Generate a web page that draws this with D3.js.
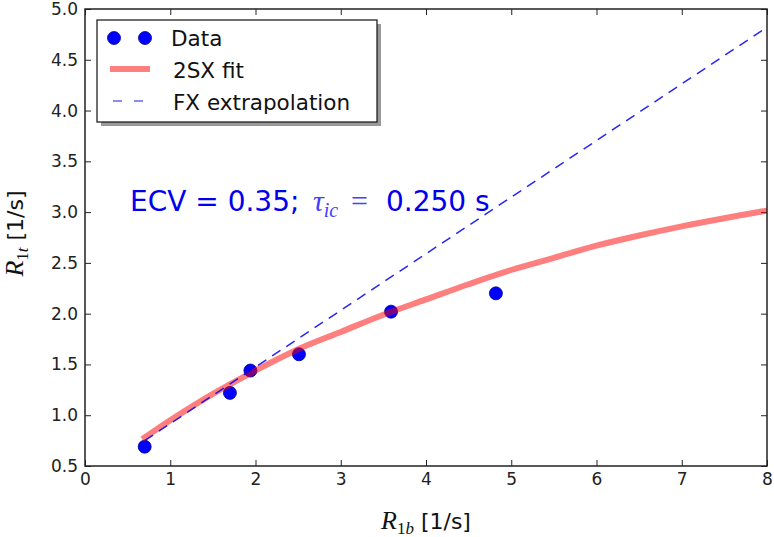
<html>
<head>
<title>R1t vs R1b</title>
<script src="https://cdn.jsdelivr.net/npm/d3@7"></script>
<style>
  body { margin: 0; background: #fff; }
  text { font-family: "DejaVu Sans", sans-serif; }
</style>
</head>
<body>
<svg width="774" height="537"></svg>
<script>

// measured points
var dataR1b = [0.70, 1.70, 1.94, 2.51, 3.59, 4.82];
var dataR1t = [0.69, 1.22, 1.44, 1.60, 2.02, 2.20];

// 2SX fit curve
var fitR1b = [0.7, 1.0, 1.5, 2.0, 2.5, 3.0, 3.5, 4.0, 4.5, 5.0, 5.5, 6.0, 6.5, 7.0, 7.5, 8.0];
var fitR1t = [0.78, 0.95, 1.21, 1.44, 1.65, 1.82, 1.99, 2.14, 2.29, 2.43, 2.55, 2.67, 2.77, 2.86, 2.94, 3.015];

// FX extrapolation (straight line)
var fxR1b = [0.7, 8.0];
var fxR1t = [0.75, 4.82];

var xTicks = [0, 1, 2, 3, 4, 5, 6, 7, 8];
var yTicks = [0.5, 1.0, 1.5, 2.0, 2.5, 3.0, 3.5, 4.0, 4.5, 5.0];
var legendLabels = ["Data", "2SX fit", "FX extrapolation"];

var svg = d3.select("svg"),
    margin = {top: 9, right: 7, bottom: 71, left: 85},
    width = +svg.attr("width") - margin.left - margin.right,
    height = +svg.attr("height") - margin.top - margin.bottom,
    g = svg.append("g").attr("transform", "translate(" + margin.left + "," + margin.top + ")");

var x = d3.scaleLinear().domain([0, 8]).range([0, width]);
var y = d3.scaleLinear().domain([0.5, 5]).range([height, 0]);

var pts = dataR1b.map(function(d, i) { return [d, dataR1t[i]]; });
var fit = fitR1b.map(function(d, i) { return [d, fitR1t[i]]; });
var fx = fxR1b.map(function(d, i) { return [d, fxR1t[i]]; });

var line = d3.line()
    .x(function(d) { return x(d[0]); })
    .y(function(d) { return y(d[1]); });

// axes, ticks pointing inward on all four sides
function styleAxis(sel) {
  sel.select(".domain").remove();
  sel.selectAll(".tick line").attr("stroke", "#222").attr("stroke-width", 1);
  sel.selectAll(".tick text").attr("fill", "#222").style("font-size", "17px");
}

g.append("g")
    .attr("transform", "translate(0," + height + ")")
    .call(d3.axisBottom(x).tickValues(xTicks).tickFormat(d3.format("d")).tickSizeInner(-6).tickSizeOuter(0).tickPadding(7))
    .call(styleAxis);

g.append("g")
    .call(d3.axisLeft(y).tickValues(yTicks).tickFormat(d3.format(".1f")).tickSizeInner(-6).tickSizeOuter(0).tickPadding(7))
    .call(styleAxis);

g.append("g")
    .call(d3.axisTop(x).tickValues(xTicks).tickFormat("").tickSizeInner(-6).tickSizeOuter(0))
    .call(styleAxis);

g.append("g")
    .attr("transform", "translate(" + width + ",0)")
    .call(d3.axisRight(y).tickValues(yTicks).tickFormat("").tickSizeInner(-6).tickSizeOuter(0))
    .call(styleAxis);

g.append("defs").append("clipPath")
    .attr("id", "clip")
  .append("rect")
    .attr("width", width)
    .attr("height", height);

var plot = g.append("g").attr("clip-path", "url(#clip)");

plot.selectAll("circle")
    .data(pts)
  .enter().append("circle")
    .attr("cx", function(d) { return x(d[0]); })
    .attr("cy", function(d) { return y(d[1]); })
    .attr("r", 6.5)
    .attr("fill", "#0000ff")
    .attr("stroke", "#00008b")
    .attr("stroke-width", 0.8);

plot.append("path")
    .datum(fit)
    .attr("d", line.curve(d3.curveCatmullRom.alpha(0.5)))
    .attr("fill", "none")
    .attr("stroke", "#ff0000")
    .attr("stroke-opacity", 0.5)
    .attr("stroke-width", 6)
    .attr("stroke-linecap", "square");

plot.append("path")
    .datum(fx)
    .attr("d", line.curve(d3.curveLinear))
    .attr("fill", "none")
    .attr("stroke", "#0000ee")
    .attr("stroke-opacity", 0.85)
    .attr("stroke-width", 1.5)
    .attr("stroke-dasharray", "10,7");

// frame
g.append("rect")
    .attr("width", width)
    .attr("height", height)
    .attr("fill", "none")
    .attr("stroke", "#222")
    .attr("stroke-width", 1.5);

// annotation
var ann = g.append("text")
    .attr("x", 45)
    .attr("y", 202)
    .attr("fill", "#0000ee")
    .style("font-size", "28px");
ann.append("tspan").text("ECV = 0.35; ");
ann.append("tspan")
    .attr("x", 228)
    .style("font-family", "'Liberation Serif', serif")
    .style("font-style", "italic")
    .attr("fill", "#4040ff")
    .style("font-size", "30px")
    .text("\u03c4");
ann.append("tspan")
    .attr("dy", 6)
    .style("font-family", "'Liberation Serif', serif")
    .style("font-style", "italic")
    .attr("fill", "#4040ff")
    .style("font-size", "20px")
    .text("ic");
ann.append("tspan")
    .attr("x", 266)
    .attr("dy", -6)
    .attr("fill", "#4040ff")
    .style("font-family", "'Liberation Serif', serif")
    .style("font-size", "30px")
    .text("=");
ann.append("tspan")
    .attr("x", 301)
    .text("0.250 s");

// legend
var leg = g.append("g").attr("transform", "translate(12,11)");
leg.append("rect")
    .attr("x", 4).attr("y", 4)
    .attr("width", 280).attr("height", 102)
    .attr("fill", "#999");
leg.append("rect")
    .attr("width", 280).attr("height", 102)
    .attr("fill", "#fff")
    .attr("stroke", "#111")
    .attr("stroke-width", 1.2);

leg.selectAll("circle")
    .data([17, 48])
  .enter().append("circle")
    .attr("cx", function(d) { return d; })
    .attr("cy", 18)
    .attr("r", 6.5)
    .attr("fill", "#0000ff")
    .attr("stroke", "#00008b")
    .attr("stroke-width", 0.8);

leg.append("line")
    .attr("x1", 16).attr("x2", 50)
    .attr("y1", 49).attr("y2", 49)
    .attr("stroke", "#ff0000")
    .attr("stroke-opacity", 0.5)
    .attr("stroke-width", 6)
    .attr("stroke-linecap", "square");

leg.append("line")
    .attr("x1", 16).attr("x2", 46)
    .attr("y1", 81).attr("y2", 81)
    .attr("stroke", "#0000ee")
    .attr("stroke-opacity", 0.6)
    .attr("stroke-width", 1.5)
    .attr("stroke-dasharray", "9,12");

leg.selectAll("text.lab")
    .data(legendLabels)
  .enter().append("text")
    .attr("class", "lab")
    .attr("x", function(d, i) { return i == 0 ? 74 : 76; })
    .attr("y", function(d, i) { return 25.5 + i * 32; })
    .attr("fill", "#111")
    .style("font-size", "21.5px")
    .text(function(d) { return d; });

// axis labels
var xl = svg.append("text")
    .attr("x", margin.left + x(4))
    .attr("y", 529)
    .attr("text-anchor", "middle")
    .attr("fill", "#111")
    .style("font-size", "22px");
xl.append("tspan")
    .style("font-family", "'Liberation Serif', serif")
    .style("font-style", "italic")
    .style("font-size", "26px")
    .text("R");
xl.append("tspan")
    .attr("dy", 5)
    .style("font-family", "'Liberation Serif', serif")
    .style("font-size", "17px")
    .text("1");
xl.append("tspan")
    .style("font-family", "'Liberation Serif', serif")
    .style("font-style", "italic")
    .style("font-size", "17px")
    .text("b");
xl.append("tspan")
    .attr("dy", -5)
    .text(" [1/s]");

var yl = svg.append("text")
    .attr("transform", "translate(23," + (margin.top + height / 2 - 4) + ") rotate(-90)")
    .attr("text-anchor", "middle")
    .attr("fill", "#111")
    .style("font-size", "22px");
yl.append("tspan")
    .style("font-family", "'Liberation Serif', serif")
    .style("font-style", "italic")
    .style("font-size", "26px")
    .text("R");
yl.append("tspan")
    .attr("dy", 5)
    .style("font-family", "'Liberation Serif', serif")
    .style("font-size", "17px")
    .text("1");
yl.append("tspan")
    .style("font-family", "'Liberation Serif', serif")
    .style("font-style", "italic")
    .style("font-size", "17px")
    .text("t");
yl.append("tspan")
    .attr("dy", -5)
    .text(" [1/s]");

</script>
</body>
</html>
